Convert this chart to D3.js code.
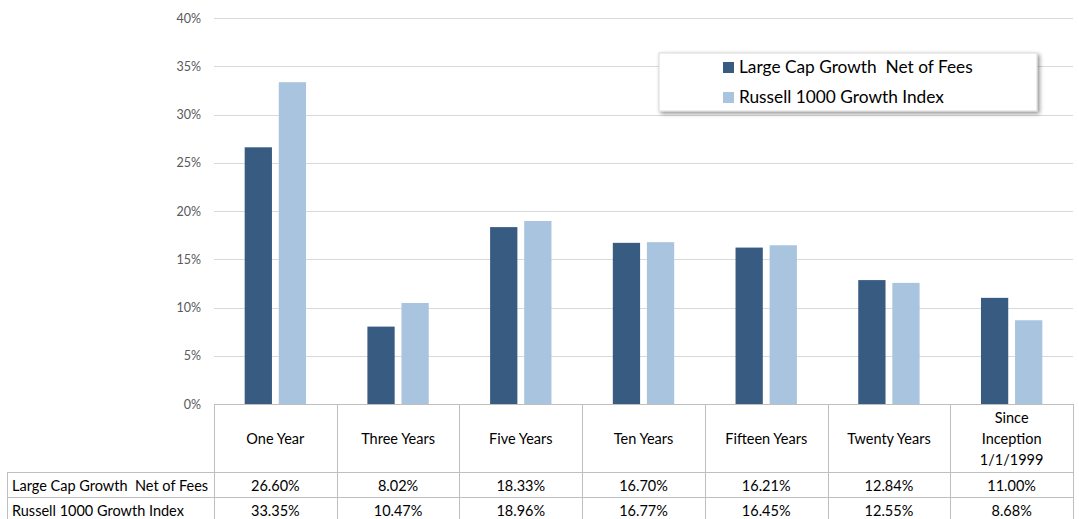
<!DOCTYPE html>
<html>
<head>
<meta charset="utf-8">
<script src="https://cdn.jsdelivr.net/npm/d3@7"></script>
<style>
  html, body { margin: 0; padding: 0; background: #fff; }
  svg { display: block; font-family: Lato, "Open Sans", sans-serif; }
</style>
</head>
<body>
<svg id="chart" width="1079" height="519"></svg>
<script>
// periods shown on the x axis / table header
const categories = ["One Year", "Three Years", "Five Years", "Ten Years", "Fifteen Years", "Twenty Years", "Since Inception 1/1/1999"];
const categoryLines = [["One Year"], ["Three Years"], ["Five Years"], ["Ten Years"], ["Fifteen Years"], ["Twenty Years"], ["Since", "Inception", "1/1/1999"]];
const seriesNames = ["Large Cap Growth  Net of Fees", "Russell 1000 Growth Index"];
const netOfFees = [26.60, 8.02, 18.33, 16.70, 16.21, 12.84, 11.00];
const russellIndex = [33.35, 10.47, 18.96, 16.77, 16.45, 12.55, 8.68];
const yTicks = [0, 5, 10, 15, 20, 25, 30, 35, 40];

const colors = ["#375b81", "#a9c4df"];
const series = [netOfFees, russellIndex];

const svg = d3.select("#chart");

const plotLeft = 214, plotRight = 1073, plotTop = 18, plotBottom = 404;
const labelLeft = 7;
const headerBottom = 472, rowH = 25;

const x = d3.scaleBand()
  .domain(categories)
  .range([plotLeft, plotRight])
  .paddingInner(0.5)
  .paddingOuter(0.25);

const xInner = d3.scaleBand()
  .domain(seriesNames)
  .range([0, x.bandwidth()])
  .paddingInner(0.2);

const y = d3.scaleLinear().domain([0, 40]).range([plotBottom, plotTop]);

// gridlines
svg.append("g")
  .selectAll("line")
  .data(yTicks.slice(1))
  .join("line")
  .attr("x1", plotLeft)
  .attr("x2", plotRight)
  .attr("y1", d => Math.round(y(d)) + 0.5)
  .attr("y2", d => Math.round(y(d)) + 0.5)
  .attr("stroke", "#d9d9d9")
  .attr("stroke-width", 1);

// y axis labels
const yAxis = svg.append("g")
  .attr("transform", `translate(${plotLeft - 13},0)`)
  .call(d3.axisLeft(y).tickValues(yTicks).tickFormat(d => d + "%").tickSize(0).tickPadding(0));
yAxis.select(".domain").remove();
yAxis.selectAll("text")
  .attr("fill", "#595959")
  .style("font-size", "12.5px")
  .style("font-family", "Lato, 'Open Sans', sans-serif");

// bars
const groups = svg.append("g")
  .selectAll("g")
  .data(categories)
  .join("g")
  .attr("transform", d => `translate(${x(d)},0)`);

groups.selectAll("rect")
  .data((d, i) => seriesNames.map((s, j) => ({ s, j, v: series[j][i] })))
  .join("rect")
  .attr("x", d => xInner(d.s))
  .attr("width", xInner.bandwidth())
  .attr("y", d => y(d.v))
  .attr("height", d => y(0) - y(d.v))
  .attr("fill", d => colors[d.j]);

// table grid
const grid = svg.append("g").attr("stroke", "#bfbfbf").attr("stroke-width", 1).attr("fill", "none");
const colEdges = d3.range(categories.length + 1).map(i => plotLeft + i * x.step());

grid.append("line").attr("x1", plotLeft).attr("x2", plotRight).attr("y1", plotBottom + 0.5).attr("y2", plotBottom + 0.5);
[headerBottom, headerBottom + rowH].forEach(yy => {
  grid.append("line").attr("x1", labelLeft).attr("x2", plotRight).attr("y1", yy + 0.5).attr("y2", yy + 0.5);
});
colEdges.forEach(xx => {
  grid.append("line").attr("x1", Math.round(xx) + 0.5).attr("x2", Math.round(xx) + 0.5).attr("y1", plotBottom).attr("y2", 519);
});
grid.append("line").attr("x1", labelLeft + 0.5).attr("x2", labelLeft + 0.5).attr("y1", headerBottom).attr("y2", 519);

// header labels
const header = svg.append("g")
  .selectAll("text")
  .data(categories)
  .join("text")
  .attr("text-anchor", "middle")
  .attr("fill", "#000")
  .style("font-size", "14.5px");

header.each(function (d, i) {
  const lines = categoryLines[i];
  const cx = x(d) + x.bandwidth() / 2;
  const lh = 21;
  const startY = 444 - (lines.length - 1) * lh / 2;
  d3.select(this).selectAll("tspan")
    .data(lines)
    .join("tspan")
    .attr("x", cx)
    .attr("y", (l, k) => startY + k * lh)
    .text(l => l);
});

// data rows
const fmt = d => d3.format(".2f")(d) + "%";
series.forEach((vals, j) => {
  const rowY = headerBottom + j * rowH + 19;
  svg.append("text")
    .attr("x", labelLeft + 5)
    .attr("y", rowY)
    .attr("fill", "#000")
    .style("font-size", "14.5px")
    .style("white-space", "pre")
    .text(seriesNames[j]);
  svg.append("g")
    .selectAll("text")
    .data(vals)
    .join("text")
    .attr("x", (v, i) => x(categories[i]) + x.bandwidth() / 2)
    .attr("y", rowY)
    .attr("text-anchor", "middle")
    .attr("fill", "#000")
    .style("font-size", "14.5px")
    .text(fmt);
});

// legend
const defs = svg.append("defs");
const filter = defs.append("filter").attr("id", "shadow").attr("x", "-5%").attr("y", "-20%").attr("width", "115%").attr("height", "150%");
filter.append("feDropShadow").attr("dx", 2).attr("dy", 2).attr("stdDeviation", 2).attr("flood-color", "#000").attr("flood-opacity", 0.45);

const legend = svg.append("g").attr("transform", "translate(659,53)");
legend.append("rect")
  .attr("width", 378)
  .attr("height", 58)
  .attr("fill", "#fff")
  .attr("stroke", "#d9d9d9")
  .attr("filter", "url(#shadow)");

const items = legend.selectAll("g.item")
  .data(seriesNames)
  .join("g")
  .attr("class", "item")
  .attr("transform", (d, i) => `translate(64,${9 + i * 30})`);

items.append("rect")
  .attr("width", 11)
  .attr("height", 11)
  .attr("fill", (d, i) => colors[i]);

items.append("text")
  .attr("x", 16)
  .attr("y", 11)
  .attr("fill", "#000")
  .style("font-size", "17.3px")
  .style("white-space", "pre")
  .text(d => d);
</script>
</body>
</html>
